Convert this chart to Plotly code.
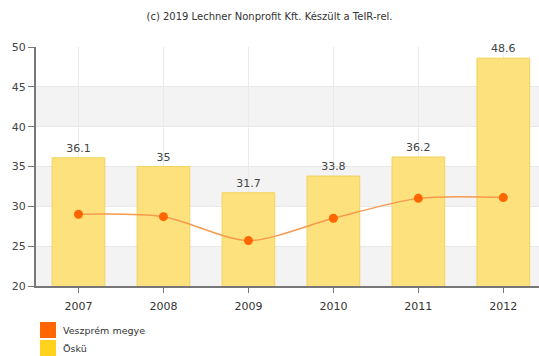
import plotly.graph_objects as go

years = ["2007", "2008", "2009", "2010", "2011", "2012"]
osku = [36.1, 35, 31.7, 33.8, 36.2, 48.6]
veszprem = [29.0, 28.7, 25.7, 28.5, 31.0, 31.1]
y_ticks = [20, 25, 30, 35, 40, 45, 50]

MARGIN_L, MARGIN_T, MARGIN_B = 36, 47, 70
W, H = 539, 356
PLOT_W = W - MARGIN_L
PLOT_H = H - MARGIN_T - MARGIN_B

fig = go.Figure()

# alternating horizontal bands
for lo, hi in [(40, 45), (30, 35), (20, 25)]:
    fig.add_shape(type="rect", xref="paper", yref="y", x0=0, x1=1, y0=lo, y1=hi,
                  fillcolor="#F3F3F3", line_width=0, layer="below")

fig.add_trace(go.Bar(
    x=years, y=osku, name="Öskü", width=0.62,
    marker=dict(color="#FCE17C", line=dict(color="#F2D35E", width=1)),
    text=[f"{v:g}" for v in osku], textposition="outside",
    textfont=dict(size=11, color="#444444", family="Verdana, DejaVu Sans"),
    cliponaxis=False,
))
fig.add_trace(go.Scatter(
    x=years, y=veszprem, name="Veszprém megye", mode="lines+markers",
    line=dict(color="#F59A4E", width=1.5, shape="spline", smoothing=0.8),
    marker=dict(color="#FF6600", size=9),
))

fig.update_layout(
    width=W, height=H,
    margin=dict(l=MARGIN_L, r=0, t=MARGIN_T, b=MARGIN_B),
    plot_bgcolor="white", paper_bgcolor="white",
    showlegend=False, bargap=0.38,
    font=dict(family="Verdana, DejaVu Sans", size=11, color="#444444"),
    title=dict(text="(c) 2019 Lechner Nonprofit Kft. Készült a TeIR-rel.",
               x=0.5, xanchor="center", y=0.955, yanchor="middle",
               font=dict(size=10, color="#333333")),
)
fig.update_xaxes(
    range=[-0.5, 5.42], showgrid=True, gridcolor="#EBEBEB",
    showline=True, linecolor="#777777", linewidth=2,
    ticks="outside", ticklen=5, tickcolor="#777777",
    ticklabelstandoff=4,
    tickfont=dict(size=11, color="#333333"),
)
fig.update_yaxes(
    range=[20, 50], tickvals=y_ticks, showgrid=True, gridcolor="#E8E8E8",
    showline=True, linecolor="#777777", linewidth=2,
    ticks="outside", ticklen=6, tickcolor="#777777",
    tickfont=dict(size=11, color="#444444"), zeroline=False,
)

# legend entries drawn below the plot
legend_items = [("#FF6600", "Veszprém megye"), ("#FFD21E", "Öskü")]
for i, (col, label) in enumerate(legend_items):
    y_top = 322 + i * 18
    y0 = (H - MARGIN_B - y_top) / PLOT_H
    y1 = (H - MARGIN_B - y_top - 16) / PLOT_H
    fig.add_shape(type="rect", xref="paper", yref="paper",
                  x0=(40 - MARGIN_L) / PLOT_W, x1=(56 - MARGIN_L) / PLOT_W,
                  y0=y0, y1=y1, fillcolor=col, line_width=0)
    fig.add_annotation(xref="paper", yref="paper", x=(61 - MARGIN_L) / PLOT_W,
                       y=(y0 + y1) / 2, text=label, showarrow=False,
                       xanchor="left", yanchor="middle",
                       font=dict(size=9.5, color="#333333"))

fig.write_html("out.html")
